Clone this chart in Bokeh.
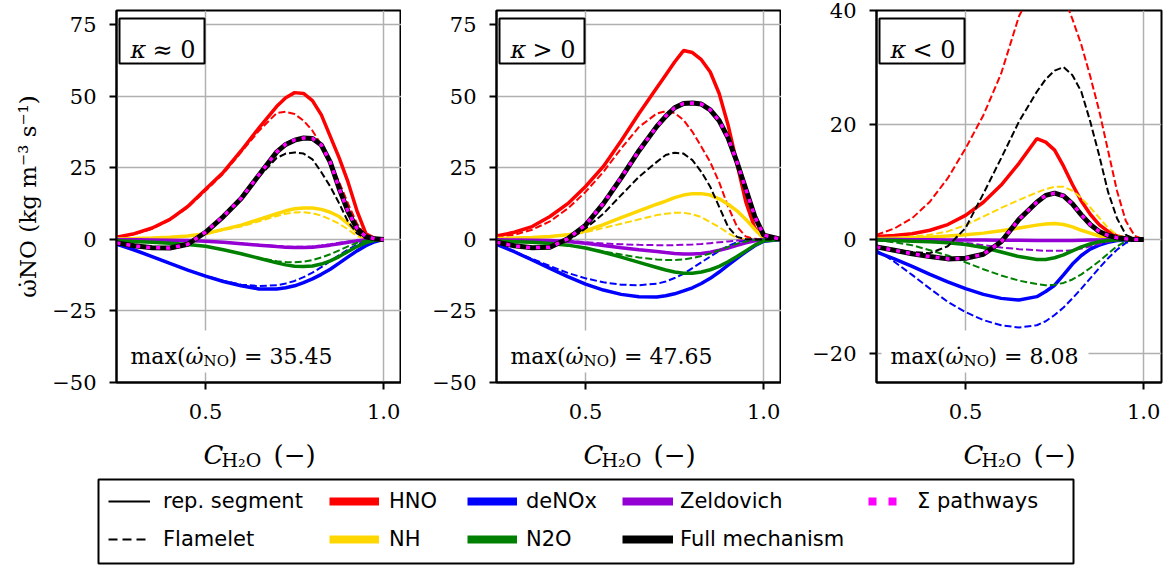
import math
from bokeh.plotting import figure
from bokeh.layouts import row, column
from bokeh.models import Label, BoxAnnotation, Legend, LegendItem, FixedTicker, Range1d
from bokeh.embed import file_html
from bokeh.resources import INLINE

# ---------------- data ----------------
C_H2O = [0.25, 0.30, 0.35, 0.40, 0.45, 0.50, 0.55, 0.60, 0.65, 0.70, 0.725, 0.75,
         0.775, 0.80, 0.825, 0.85, 0.875, 0.90, 0.925, 0.95, 0.975, 1.00]
C_H2O_POS = C_H2O + [1.05]

# kappa ~ 0
K0_HNO_SEG = [0.8, 2.0, 4.0, 7.0, 11.5, 17.5, 23.5, 31.0, 39.0, 46.5, 49.5, 51.3, 51.0, 48.5, 43.5, 36.0, 28.5, 20.0, 10.0, 2.0, 0.3, 0.0]
K0_HNO_FLM = [0.8, 1.8, 3.7, 6.8, 11.2, 17.0, 23.0, 30.5, 38.0, 44.2, 44.6, 43.8, 41.5, 38.0, 33.0, 27.0, 20.0, 12.5, 5.5, 1.0, 0.1, 0.0]
K0_NH_SEG = [0.2, 0.3, 0.5, 0.8, 1.2, 2.0, 3.5, 5.0, 7.0, 9.0, 10.0, 10.7, 11.0, 11.0, 10.5, 9.5, 8.0, 5.5, 2.5, 0.3, 0.0, 0.0]
K0_NH_FLM = [0.2, 0.3, 0.5, 0.8, 1.2, 2.0, 3.3, 4.5, 6.3, 8.2, 9.0, 9.4, 9.5, 9.2, 8.3, 7.0, 5.5, 3.5, 1.2, 0.2, 0.0, 0.0]
K0_DENOX_SEG = [-1.6, -3.7, -6.0, -8.4, -10.7, -12.8, -14.7, -16.2, -17.3, -17.3, -16.9, -16.2, -15.1, -13.8, -12.2, -10.4, -8.3, -6.1, -4.0, -2.2, -0.8, 0.0]
K0_DENOX_FLM = [-1.6, -3.7, -6.0, -8.4, -10.7, -12.7, -14.5, -15.8, -16.3, -16.0, -15.4, -14.5, -13.2, -11.6, -9.7, -7.6, -5.5, -3.5, -1.8, -0.6, -0.1, 0.0]
K0_ZEL_SEG = [0.0, -0.1, -0.2, -0.3, -0.4, -0.6, -1.0, -1.5, -2.0, -2.5, -2.7, -2.8, -2.8, -2.7, -2.4, -2.0, -1.5, -1.0, -0.5, -0.2, -0.1, 0.0]
K0_ZEL_FLM = [0.0, -0.1, -0.2, -0.3, -0.4, -0.6, -1.0, -1.4, -1.9, -2.3, -2.5, -2.6, -2.6, -2.4, -2.1, -1.7, -1.2, -0.8, -0.4, -0.1, 0.0, 0.0]
K0_N2O_SEG = [-0.5, -0.7, -1.0, -1.3, -1.8, -2.4, -3.6, -5.0, -6.6, -8.2, -8.9, -9.4, -9.5, -9.3, -8.6, -7.5, -6.0, -4.2, -2.5, -1.1, -0.3, 0.0]
K0_N2O_FLM = [-0.5, -0.7, -1.0, -1.3, -1.8, -2.4, -3.6, -5.0, -6.5, -7.6, -7.9, -8.0, -7.8, -7.2, -6.3, -5.2, -3.8, -2.4, -1.2, -0.4, -0.1, 0.0]
K0_FULL_SEG = [-1.2, -2.2, -2.9, -3.0, -1.7, 2.5, 8.0, 14.3, 22.5, 30.6, 33.2, 34.7, 35.45, 35.3, 33.0, 27.0, 17.8, 9.7, 3.8, 1.0, 0.2, 0.0]
K0_FULL_FLM = [-1.2, -2.2, -2.9, -3.0, -1.7, 2.4, 7.8, 14.0, 22.0, 28.5, 30.0, 30.4, 30.0, 28.0, 23.5, 18.5, 12.6, 6.2, 2.1, 0.4, 0.1, 0.0]
K0_SUM_SEG = [-1.2, -2.3, -2.9, -3.0, -1.7, 2.6, 8.1, 14.4, 22.6, 30.6, 33.3, 34.8, 35.45, 35.3, 33.0, 27.0, 17.8, 9.7, 3.8, 1.0, 0.2, 0.0]

# kappa > 0
KP_HNO_SEG = [1.2, 2.5, 4.5, 8.0, 12.5, 18.5, 25.5, 34.5, 44.0, 53.0, 57.5, 62.0, 66.0, 65.3, 62.8, 58.5, 51.0, 40.0, 26.5, 13.0, 4.0, 0.5, 0.0]
KP_HNO_FLM = [0.9, 1.6, 3.4, 6.3, 10.8, 16.6, 23.6, 31.8, 39.3, 44.0, 44.8, 44.2, 41.7, 37.6, 32.4, 27.0, 20.0, 11.5, 4.5, 1.0, 0.2, 0.0, 0.0]
KP_NH_SEG = [0.3, 0.5, 0.7, 1.0, 1.6, 3.0, 5.2, 7.6, 10.0, 12.3, 13.4, 14.6, 15.5, 16.0, 16.0, 15.5, 14.2, 12.3, 10.0, 7.0, 3.5, 0.5, 0.0]
KP_NH_FLM = [0.3, 0.5, 0.7, 1.0, 1.5, 2.5, 4.0, 5.5, 7.0, 8.5, 9.0, 9.3, 9.3, 8.8, 7.8, 6.0, 4.3, 2.2, 0.5, 0.0, 0.0, 0.0, 0.0]
KP_DENOX_SEG = [-1.7, -4.3, -7.2, -10.1, -13.0, -15.6, -17.7, -19.2, -20.0, -20.1, -19.7, -19.0, -18.0, -16.9, -15.4, -13.6, -11.4, -9.0, -6.6, -4.3, -2.2, -0.6, 0.0]
KP_DENOX_FLM = [-1.7, -4.2, -6.8, -9.3, -11.7, -13.6, -15.0, -15.8, -16.0, -15.5, -14.7, -13.5, -12.0, -10.0, -8.0, -6.0, -4.0, -2.3, -1.0, -0.3, 0.0, 0.0, 0.0]
KP_ZEL_SEG = [-0.1, -0.2, -0.3, -0.4, -0.7, -1.3, -2.1, -2.9, -3.6, -4.2, -4.6, -4.9, -5.1, -5.1, -4.9, -4.5, -3.8, -3.0, -2.1, -1.2, -0.5, -0.1, 0.0]
KP_ZEL_FLM = [-0.1, -0.2, -0.3, -0.4, -0.5, -1.0, -1.4, -1.7, -1.9, -2.0, -2.0, -2.0, -1.9, -1.8, -1.6, -1.3, -1.0, -0.7, -0.4, -0.2, -0.1, 0.0, 0.0]
KP_N2O_SEG = [-0.6, -0.8, -1.0, -1.4, -2.0, -3.0, -4.5, -6.2, -8.0, -9.8, -10.7, -11.4, -11.8, -11.8, -11.4, -10.6, -9.4, -7.8, -6.0, -4.0, -2.0, -0.5, 0.0]
KP_N2O_FLM = [-0.6, -0.8, -1.0, -1.4, -2.0, -3.0, -4.2, -5.3, -6.3, -7.0, -7.2, -7.2, -7.0, -6.5, -5.8, -4.9, -3.8, -2.6, -1.5, -0.7, -0.2, 0.0, 0.0]
KP_FULL_SEG = [-1.0, -2.2, -2.9, -2.7, 0.2, 5.0, 12.5, 21.5, 31.0, 39.5, 43.0, 46.0, 47.5, 47.65, 47.3, 45.3, 41.5, 35.5, 27.0, 17.5, 8.0, 1.5, 0.0]
KP_FULL_FLM = [-1.0, -2.2, -2.8, -2.5, -0.5, 3.8, 9.0, 15.5, 21.9, 27.1, 29.5, 30.3, 30.0, 27.7, 23.6, 18.4, 11.4, 4.4, 0.9, 0.1, 0.0, 0.0, 0.0]
KP_SUM_SEG = [-1.0, -2.3, -2.9, -2.7, 0.2, 5.1, 12.6, 21.6, 31.0, 39.5, 43.1, 46.0, 47.5, 47.65, 47.3, 45.3, 41.5, 35.5, 27.0, 17.5, 8.0, 1.5, 0.0]

# kappa < 0
KN_HNO_SEG = [0.5, 0.7, 1.0, 1.6, 2.6, 4.2, 6.5, 9.5, 13.3, 17.6, 17.0, 15.6, 12.8, 9.6, 6.7, 4.4, 2.6, 1.4, 0.6, 0.2, 0.0, 0.0]
KN_HNO_FLM = [0.8, 1.9, 3.7, 6.6, 10.7, 15.9, 21.7, 29.0, 39.0, 45.0, 46.0, 45.5, 42.5, 38.5, 34.0, 28.5, 22.5, 15.5, 8.5, 3.2, 0.6, 0.0]
KN_NH_SEG = [0.1, 0.2, 0.3, 0.4, 0.6, 0.8, 1.1, 1.5, 2.0, 2.5, 2.7, 2.8, 2.6, 2.2, 1.6, 1.1, 0.6, 0.3, 0.1, 0.0, 0.0, 0.0]
KN_NH_FLM = [0.1, 0.2, 0.5, 0.8, 1.4, 2.5, 4.0, 5.5, 6.9, 8.2, 8.8, 9.2, 9.2, 8.5, 7.2, 5.6, 3.8, 2.0, 0.8, 0.2, 0.0, 0.0]
KN_DENOX_SEG = [-2.2, -3.4, -4.7, -6.1, -7.4, -8.6, -9.6, -10.3, -10.6, -10.0, -9.1, -8.0, -6.2, -4.3, -2.8, -1.7, -1.0, -0.5, -0.2, -0.1, 0.0, 0.0]
KN_DENOX_FLM = [-1.9, -3.9, -6.2, -8.6, -10.9, -12.7, -14.1, -15.0, -15.4, -15.0, -14.3, -13.2, -11.9, -10.3, -8.6, -6.8, -5.0, -3.3, -1.8, -0.6, -0.1, 0.0]
KN_ZEL_SEG = [0.0, 0.0, -0.05, -0.05, -0.1, -0.1, -0.1, -0.15, -0.15, -0.2, -0.2, -0.2, -0.2, -0.2, -0.15, -0.1, -0.1, -0.05, 0.0, 0.0, 0.0, 0.0]
KN_ZEL_FLM = [0.0, -0.05, -0.1, -0.2, -0.4, -0.6, -1.0, -1.4, -1.7, -1.9, -2.0, -2.0, -2.0, -1.9, -1.6, -1.2, -0.8, -0.4, -0.2, -0.05, 0.0, 0.0]
KN_N2O_SEG = [-0.1, -0.2, -0.3, -0.4, -0.6, -0.9, -1.4, -2.2, -3.0, -3.5, -3.5, -3.2, -2.7, -2.0, -1.3, -0.8, -0.4, -0.2, -0.1, 0.0, 0.0, 0.0]
KN_N2O_FLM = [-0.1, -0.5, -1.0, -1.9, -2.8, -4.0, -5.2, -6.3, -7.2, -7.8, -8.0, -7.9, -7.6, -7.0, -6.1, -5.0, -3.8, -2.5, -1.2, -0.3, 0.0, 0.0]
KN_FULL_SEG = [-1.3, -1.9, -2.5, -3.0, -3.4, -3.3, -2.6, -0.4, 3.5, 6.5, 7.7, 8.08, 7.6, 6.2, 4.3, 2.6, 1.4, 0.7, 0.3, 0.1, 0.0, 0.0]
KN_FULL_FLM = [-1.2, -1.8, -2.2, -2.4, -1.2, 2.0, 8.0, 14.2, 20.6, 25.8, 28.0, 29.5, 30.1, 28.7, 25.8, 20.6, 14.7, 8.3, 3.7, 0.8, 0.1, 0.0]
KN_SUM_SEG = [-1.3, -1.9, -2.5, -3.0, -3.4, -3.3, -2.6, -0.4, 3.5, 6.5, 7.7, 8.08, 7.6, 6.2, 4.3, 2.6, 1.4, 0.7, 0.3, 0.1, 0.0, 0.0]

PANEL_TAGS = ["≈", ">", "<"]
PANEL_MAX = ["35.45", "47.65", "8.08"]
PANEL_YLIM = [(-50, 80), (-50, 80), (-25, 40)]
PANEL_YTICKS = [[-50, -25, 0, 25, 50, 75], [-50, -25, 0, 25, 50, 75], [-20, 0, 20, 40]]
X_TICKS = [0.5, 1.0]
Y_LABEL = "ω\u0307NO (kg m\u207b\u00b3 s\u207b\u00b9)"

PATHWAYS = ["HNO", "NH", "deNOx", "Zeldovich", "N2O"]
PATH_COLORS = ["#ff0000", "#ffd700", "#0000ff", "#9400d3", "#008000"]
FULL_COLOR = "#000000"
SUM_COLOR = "#ff00ff"

PANELS = [
    dict(x=C_H2O,
         seg=[K0_HNO_SEG, K0_NH_SEG, K0_DENOX_SEG, K0_ZEL_SEG, K0_N2O_SEG],
         flm=[K0_HNO_FLM, K0_NH_FLM, K0_DENOX_FLM, K0_ZEL_FLM, K0_N2O_FLM],
         full_seg=K0_FULL_SEG, full_flm=K0_FULL_FLM, sum_seg=K0_SUM_SEG),
    dict(x=C_H2O_POS,
         seg=[KP_HNO_SEG, KP_NH_SEG, KP_DENOX_SEG, KP_ZEL_SEG, KP_N2O_SEG],
         flm=[KP_HNO_FLM, KP_NH_FLM, KP_DENOX_FLM, KP_ZEL_FLM, KP_N2O_FLM],
         full_seg=KP_FULL_SEG, full_flm=KP_FULL_FLM, sum_seg=KP_SUM_SEG),
    dict(x=C_H2O,
         seg=[KN_HNO_SEG, KN_NH_SEG, KN_DENOX_SEG, KN_ZEL_SEG, KN_N2O_SEG],
         flm=[KN_HNO_FLM, KN_NH_FLM, KN_DENOX_FLM, KN_ZEL_FLM, KN_N2O_FLM],
         full_seg=KN_FULL_SEG, full_flm=KN_FULL_FLM, sum_seg=KN_SUM_SEG),
]

# ---------------- layout / style ----------------
W, H = 1168, 566
FW, FH = 285, 372
TOP, BOTTOM = 10, 46
ROW_H = TOP + FH + BOTTOM
BORDERS = [(116, 0), (95, 0), (95, 7)]
FRAME_LEFTS = [116, 496, 876]
XLIM = (0.25, 1.05)
SERIF = "DejaVu Serif"
SANS = "DejaVu Sans"


def put(p, ylim, dx, py, text, size, style="normal"):
    """Label inside a panel, placed by pixel offset from frame left (dx) and pixel row (py)."""
    x = XLIM[0] + dx / FW * (XLIM[1] - XLIM[0])
    y = ylim[1] - (py - TOP) / FH * (ylim[1] - ylim[0])
    p.add_layout(Label(x=x, y=y, text=text, text_font=SERIF, text_font_size=f"{size}px",
                       text_font_style=style, text_align="left",
                       text_baseline="alphabetic", text_color="black"))


def put_px(p, x, y, text, size, style="normal", font=SERIF):
    """Label on a helper figure whose data coordinates are page pixels."""
    p.add_layout(Label(x=x, y=y, text=text, text_font=font, text_font_size=f"{size}px",
                       text_font_style=style, text_align="left",
                       text_baseline="alphabetic", text_color="black"))


def box(p, ylim, dx0, dx1, py0, py1, border):
    sx = lambda d: XLIM[0] + d / FW * (XLIM[1] - XLIM[0])
    sy = lambda q: ylim[1] - (q - TOP) / FH * (ylim[1] - ylim[0])
    p.add_layout(BoxAnnotation(left=sx(dx0), right=sx(dx1), top=sy(py0), bottom=sy(py1),
                               fill_color="white", fill_alpha=1.0,
                               line_color="black" if border else None,
                               line_alpha=1.0, line_width=2))


def minus(v):
    return f"{v}".replace("-", "\u2212")


def blank_fig(width, height, x_range, y_range):
    f = figure(width=width, height=height, x_range=x_range, y_range=y_range,
               x_axis_location=None, y_axis_location=None, min_border=0,
               output_backend="svg", toolbar_location=None)
    f.outline_line_color = None
    f.grid.visible = False
    return f


figs = []
for i, pan in enumerate(PANELS):
    bl, br = BORDERS[i]
    ylim = PANEL_YLIM[i]
    p = figure(frame_width=FW, frame_height=FH, x_range=Range1d(*XLIM), y_range=Range1d(*ylim),
               min_border_left=bl, min_border_right=br, min_border_top=TOP, min_border_bottom=BOTTOM,
               output_backend="svg", toolbar_location=None)
    p.outline_line_color = "black"
    p.outline_line_width = 2
    p.outline_line_alpha = 1.0
    p.xaxis.ticker = FixedTicker(ticks=X_TICKS)
    p.yaxis.ticker = FixedTicker(ticks=PANEL_YTICKS[i])
    p.xaxis.major_label_overrides = {t: f"{t:.1f}" for t in X_TICKS}
    p.yaxis.major_label_overrides = {t: minus(t) for t in PANEL_YTICKS[i]}
    for ax in (p.xaxis[0], p.yaxis[0]):
        ax.axis_line_color = "black"
        ax.axis_line_width = 2
        ax.major_tick_line_color = "black"
        ax.major_tick_line_width = 2
        ax.major_tick_out = 7
        ax.major_tick_in = 0
        ax.minor_tick_line_color = None
        ax.major_label_text_font = SERIF
        ax.major_label_text_font_size = "21px"
        ax.major_label_text_color = "black"
    p.xaxis.major_label_standoff = 14
    p.yaxis.major_label_standoff = 13
    p.grid.grid_line_color = "#b0b0b0"
    p.grid.grid_line_width = 1.5
    if i == 0:
        p.yaxis.axis_label = Y_LABEL
        p.yaxis.axis_label_text_font = SERIF
        p.yaxis.axis_label_text_font_size = "23px"
        p.yaxis.axis_label_text_font_style = "normal"
        p.yaxis.axis_label_text_color = "black"
        p.yaxis.axis_label_standoff = 8

    xs = pan["x"]
    for k in range(len(PATHWAYS)):
        p.line(xs, pan["flm"][k], line_color=PATH_COLORS[k], line_width=2, line_dash="7 3")
        p.line(xs, pan["seg"][k], line_color=PATH_COLORS[k], line_width=3.5)
    p.line(xs, pan["full_flm"], line_color=FULL_COLOR, line_width=2, line_dash="7 3")
    p.line(xs, pan["full_seg"], line_color=FULL_COLOR, line_width=5)
    p.line(xs, pan["sum_seg"], line_color=SUM_COLOR, line_width=3.5, line_dash="4 6")

    # kappa box
    box(p, ylim, 3, 88, 18, 63, True)
    put(p, ylim, 14, 49, "κ", 24, style="italic")
    put(p, ylim, 36, 49, f"{PANEL_TAGS[i]} 0", 24)

    # max annotation with white background
    box(p, ylim, 5, 222 if i < 2 else 212, 330, 372, False)
    put(p, ylim, 14, 356, "max(", 22)
    put(p, ylim, 69, 356, "ω\u0307", 22, style="italic")
    put(p, ylim, 87, 360, "NO", 15)
    put(p, ylim, 112, 356, f") = {PANEL_MAX[i]}", 22)
    figs.append(p)

# ---------------- bottom strip: x labels + legend (page-pixel coordinates) ----------------
BH = H - ROW_H
bt = blank_fig(W, BH, Range1d(0, W), Range1d(H, ROW_H))
for fl in FRAME_LEFTS:
    put_px(bt, fl + 87, 454, "C", 26, style="italic")
    put_px(bt, fl + 105, 459, "H\u2082O", 19)
    put_px(bt, fl + 157, 454, "(\u2212)", 26)

bt.add_layout(BoxAnnotation(left=98, right=1073, top=479, bottom=563, fill_color="white",
                            fill_alpha=1.0, line_color="black", line_alpha=1.0, line_width=2))

OFF = dict(x=[-60, -50], y=[0, 0])


def legend_col(entries, x_left, glyph_w, standoff):
    items = []
    for label, style in entries:
        r = bt.line(OFF["x"], OFF["y"], **style)
        items.append(LegendItem(label=label, renderers=[r]))
    n = len(entries)
    item_h = 24
    spacing = 14
    height = n * item_h + (n - 1) * spacing
    top_page = 501 - item_h // 2
    y_from_bottom = H - (top_page + height)
    lgd = Legend(items=items, location=(x_left, y_from_bottom), orientation="vertical",
                 glyph_width=glyph_w, glyph_height=20, label_standoff=standoff,
                 spacing=spacing, padding=0, margin=0, label_text_font=SANS,
                 label_text_font_size="21px", label_text_color="black",
                 border_line_color=None, background_fill_alpha=0.0)
    bt.add_layout(lgd)


legend_col([("rep. segment", dict(line_color="black", line_width=2)),
            ("Flamelet", dict(line_color="black", line_width=2, line_dash="9 5"))], 108, 42, 13)
legend_col([("HNO", dict(line_color=PATH_COLORS[0], line_width=8)),
            ("NH", dict(line_color=PATH_COLORS[1], line_width=8))], 329, 50, 10)
legend_col([("deNOx", dict(line_color=PATH_COLORS[2], line_width=8)),
            ("N2O", dict(line_color=PATH_COLORS[4], line_width=8))], 467, 50, 9)
legend_col([("Zeldovich", dict(line_color=PATH_COLORS[3], line_width=8)),
            ("Full mechanism", dict(line_color=FULL_COLOR, line_width=8))], 622, 51, 7)
legend_col([("Σ pathways", dict(line_color=SUM_COLOR, line_width=8, line_dash="8 12"))], 868, 40, 9)

layout = column(row(*figs), bt)
open("out.html", "w").write(file_html(layout, INLINE))
